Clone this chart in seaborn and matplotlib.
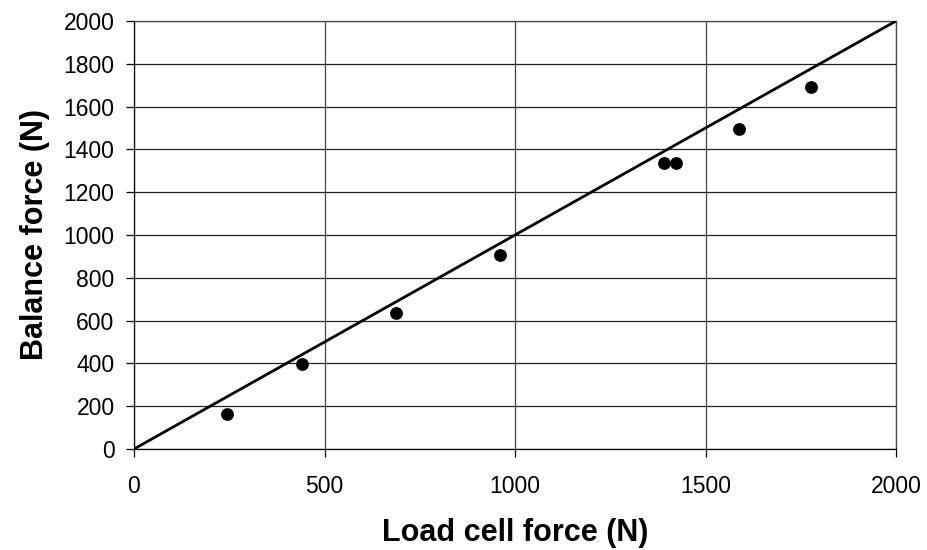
import matplotlib
matplotlib.use("Agg")
import matplotlib.pyplot as plt
import seaborn as sns
import numpy as np
import pandas as pd

load_cell = [243, 440, 688, 961, 1392, 1423, 1589, 1776]
balance = [162, 397, 634, 905, 1336, 1336, 1495, 1690]
line_x = [0, 2000]
line_y = [0, 2000]
x_ticks = [0, 500, 1000, 1500, 2000]
y_ticks = list(range(0, 2001, 200))

sns.set_theme(style="white")
plt.rcParams['font.family'] = ['Liberation Sans', 'DejaVu Sans']
plt.rcParams['text.color'] = 'black'
plt.rcParams['axes.labelcolor'] = 'black'

df = pd.DataFrame({"x": load_cell, "y": balance})

fig = plt.figure(figsize=(9.27, 5.5), dpi=100)
ax = fig.add_axes([134/927, 101/550, 762/927, 428/550])

for v in y_ticks:
    ax.axhline(v, color="#222222", lw=0.9, zorder=1)
for v in x_ticks:
    ax.axvline(v, color="#444444", lw=0.9, zorder=1)

sns.lineplot(x=line_x, y=line_y, ax=ax, color="black", lw=2.0, zorder=3)
sns.scatterplot(data=df, x="x", y="y", ax=ax, color="black", s=85,
                edgecolor="black", linewidth=0, zorder=4)

ax.set_xlim(0, 2000)
ax.set_ylim(0, 2000)
ax.set_xticks(x_ticks)
ax.set_yticks(y_ticks)
ax.tick_params(axis="both", which="both", direction="out", length=6, width=0.9,
               color="black", labelsize=16.5, labelcolor="black")
ax.tick_params(axis="y", pad=8)
ax.tick_params(axis="x", pad=13)
ax.tick_params(left=True, bottom=True)
for s in ax.spines.values():
    s.set_color("#444444")
    s.set_linewidth(0.9)
ax.spines["left"].set_color("black")
ax.spines["bottom"].set_color("black")

ax.set_xlabel("Load cell force (N)", fontsize=22, fontweight="bold", labelpad=14)
ax.set_ylabel("Balance force (N)", fontsize=22, fontweight="bold", labelpad=10)

fig.savefig("out.png", dpi=100)
